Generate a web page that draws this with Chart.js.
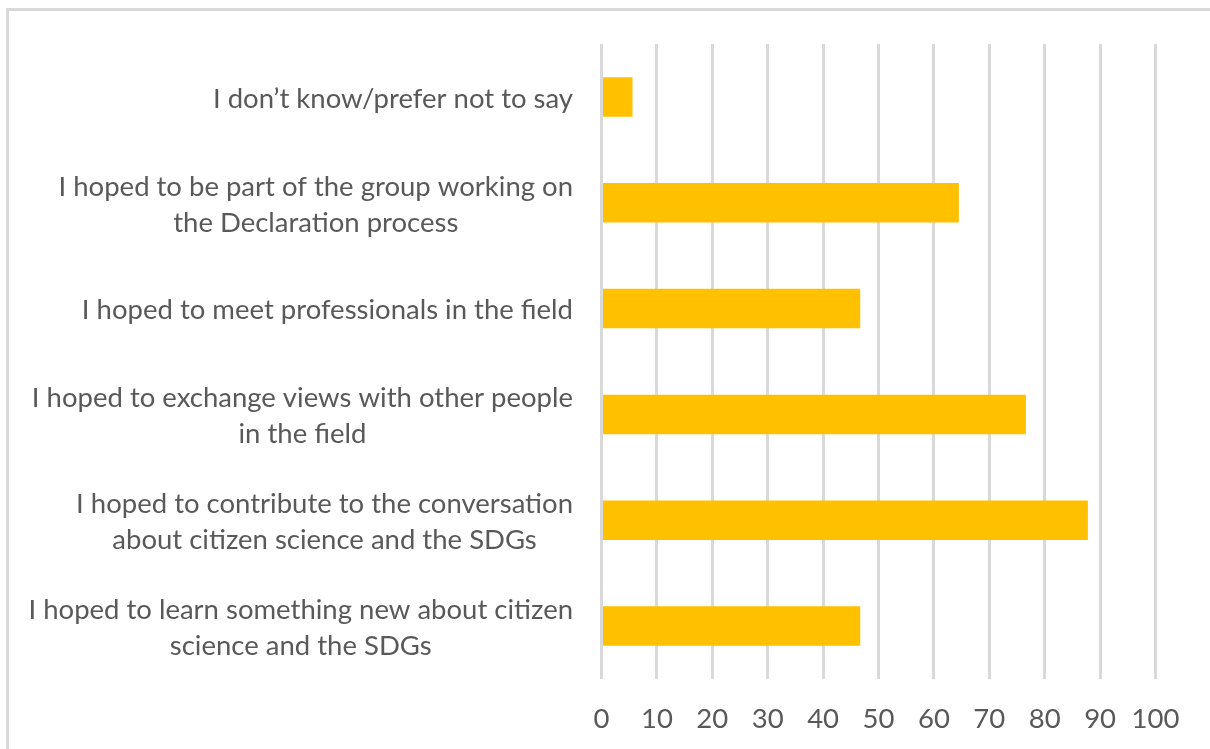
<!DOCTYPE html>
<html>
<head>
<meta charset="utf-8">
<script src="https://cdn.jsdelivr.net/npm/chart.js@4/dist/chart.umd.min.js"></script>
<style>
  html, body { margin: 0; padding: 0; background: #fff; }
  #wrap { position: relative; width: 1210px; height: 749px; overflow: hidden; }
  #frame { position: absolute; left: 6px; top: 8px; width: 1300px; height: 800px;
           border-left: 3px solid #d9d9d9; border-top: 3px solid #d9d9d9; }
  #myChart { position: absolute; left: 0; top: 0; }
</style>
</head>
<body>
<div id="wrap">
  <div id="frame"></div>
  <canvas id="myChart" width="1210" height="749"></canvas>
</div>
<script>
// Reasons for taking part, top to bottom
const categories = [
  ["I don\u2019t know/prefer not to say"],
  ["I hoped to be part of the group working on", "the Declaration process"],
  ["I hoped to meet professionals in the field"],
  ["I hoped to exchange views with other people", "in the field"],
  ["I hoped to contribute to the conversation", "about citizen science and the SDGs"],
  ["I hoped to learn something new about citizen", "science and the SDGs"]
];
const values = [5.6, 64.5, 46.7, 76.6, 87.8, 46.7];
const xTicks = [0, 10, 20, 30, 40, 50, 60, 70, 80, 90, 100];

const textColor = "#595959";
const labelFont = "27.5px Lato";

// Category labels: block right-aligned against the plot, lines centred inside it
const categoryLabels = {
  id: "categoryLabels",
  afterDraw(chart) {
    const ctx = chart.ctx;
    const yScale = chart.scales.y;
    const rightEdge = 573;
    const lineHeight = 36;
    ctx.save();
    ctx.font = labelFont;
    ctx.fillStyle = textColor;
    ctx.textAlign = "center";
    ctx.textBaseline = "middle";
    categories.forEach((lines, i) => {
      const y = yScale.getPixelForTick(i);
      let w = 0;
      lines.forEach(l => { w = Math.max(w, ctx.measureText(l).width); });
      const cx = rightEdge - w / 2;
      const top = y - (lines.length - 1) * lineHeight / 2;
      lines.forEach((l, k) => ctx.fillText(l, cx, top + k * lineHeight + 2));
    });
    ctx.restore();
  }
};

let ctx = document.getElementById("myChart");
let myChart = new Chart(ctx, {
  type: "bar",
  data: {
    labels: categories,
    datasets: [
      {
        data: values,
        backgroundColor: "#FFC000",
        borderWidth: 0,
        barPercentage: 0.374,
        categoryPercentage: 1
      }
    ]
  },
  options: {
    indexAxis: "y",
    responsive: false,
    animation: false,
    layout: { padding: { left: 601.5, right: 54.5, top: 44, bottom: 0 } },
    plugins: { legend: { display: false }, tooltip: { enabled: false } },
    scales: {
      x: {
        min: 0,
        max: 100,
        afterBuildTicks: scale => { scale.ticks = xTicks.map(v => ({ value: v })); },
        afterFit: scale => { scale.height = 70; },
        grid: { color: "#d9d9d9", lineWidth: 3, drawTicks: false },
        border: { display: false },
        ticks: {
          color: textColor,
          font: { family: "Lato", size: 27.5 },
          padding: 24,
          maxRotation: 0
        }
      },
      y: {
        display: false
      }
    }
  },
  plugins: [categoryLabels]
});
</script>
</body>
</html>
